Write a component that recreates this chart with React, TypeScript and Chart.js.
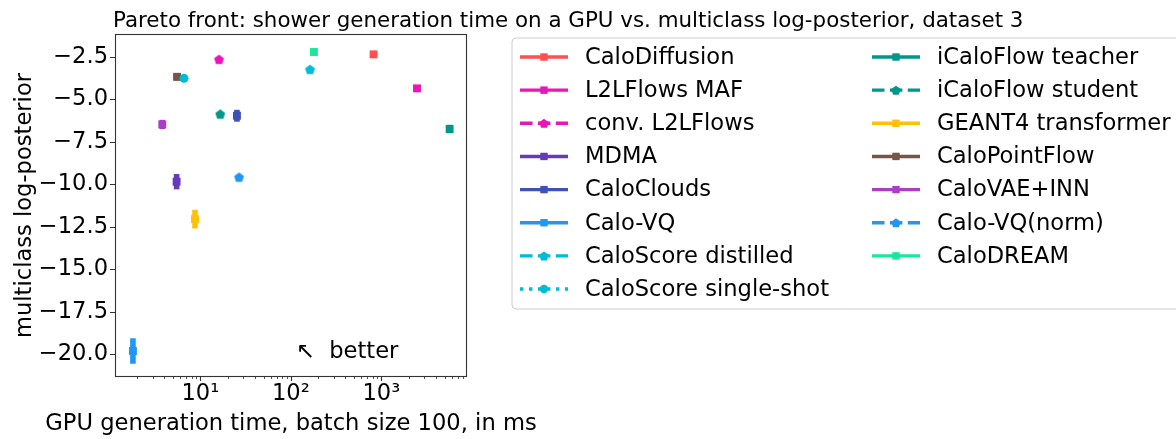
import React, { useEffect, useRef } from 'react';
import { Chart, registerables } from 'chart.js';
Chart.register(...registerables);

const models = [
  'CaloDiffusion', 'L2LFlows MAF', 'conv. L2LFlows', 'MDMA', 'CaloClouds', 'Calo-VQ',
  'CaloScore distilled', 'CaloScore single-shot', 'iCaloFlow teacher', 'iCaloFlow student',
  'GEANT4 transformer', 'CaloPointFlow', 'CaloVAE+INN', 'Calo-VQ(norm)', 'CaloDREAM',
];
const genTimes = [822, 2480, 16.1, 5.47, 25.4, 1.8, 163, 6.6, 5690, 16.6, 8.73, 5.53, 3.8, 26.8, 180];
const logPost = [-2.36, -4.36, -2.65, -9.85, -5.97, -19.81, -3.24, -3.77, -6.75, -5.87, -12.05, -3.68, -6.48, -9.58, -2.22];
const logPostErr = [0.06, 0.2, 0.08, 0.45, 0.35, 0.75, 0.08, 0.08, 0.25, 0.08, 0.55, 0.22, 0.27, 0.08, 0.06];
const colors = [
  '#ff4f4f', '#ea14b8', '#ea14b8', '#673ab7', '#3f51b5', '#2196f3',
  '#00bcd4', '#00bcd4', '#009688', '#009688', '#ffc107', '#795548', '#aa3fc5', '#2196f3', '#17e89a',
];
const markers = ['square', 'square', 'pentagon', 'square', 'square', 'square', 'pentagon', 'circle', 'square', 'pentagon', 'square', 'square', 'square', 'pentagon', 'square'];
const lineStyles = ['solid', 'solid', 'dashed', 'solid', 'solid', 'solid', 'dashed', 'dotted', 'solid', 'dashed', 'solid', 'solid', 'solid', 'dashed', 'solid'];

const xMajorTicks = [10, 100, 1000];
const xMajorLabels = ['10¹', '10²', '10³'];
const xMinorTicks = [2, 3, 4, 5, 6, 7, 8, 9, 20, 30, 40, 50, 60, 70, 80, 90, 200, 300, 400, 500, 600, 700, 800, 900, 2000, 3000, 4000, 5000, 6000, 7000, 8000];
const yTicks = [-20, -17.5, -15, -12.5, -10, -7.5, -5, -2.5];
const yTickLabels = ['−20.0', '−17.5', '−15.0', '−12.5', '−10.0', '−7.5', '−5.0', '−2.5'];
const xRange = [1.17, 8630];
const yRange = [-21.28, -1.22];

const titleText = 'Pareto front: shower generation time on a GPU vs. multiclass log-posterior, dataset 3';
const xLabel = 'GPU generation time, batch size 100, in ms';
const yLabel = 'multiclass log-posterior';
const noteText = '↖  better';

const FONT = '"DejaVu Sans", sans-serif';
const FS = 22.6;

function pentagonPath(ctx: CanvasRenderingContext2D, cx: number, cy: number, r: number) {
  ctx.beginPath();
  for (let k = 0; k < 5; k++) {
    const a = -Math.PI / 2 + (k * 2 * Math.PI) / 5;
    const px = cx + r * Math.cos(a);
    const py = cy + r * Math.sin(a);
    if (k === 0) ctx.moveTo(px, py);
    else ctx.lineTo(px, py);
  }
  ctx.closePath();
}

function makePentagon(color: string, r: number) {
  const c = document.createElement('canvas');
  const s = Math.ceil(r * 2 + 4);
  c.width = s;
  c.height = s;
  const g = c.getContext('2d')!;
  g.fillStyle = color;
  pentagonPath(g, s / 2, s / 2 + r * 0.1, r);
  g.fill();
  return c;
}

function drawMarker(ctx: CanvasRenderingContext2D, kind: string, color: string, x: number, y: number) {
  ctx.fillStyle = color;
  if (kind === 'square') {
    ctx.fillRect(x - 3.7, y - 3.7, 7.4, 7.4);
  } else if (kind === 'circle') {
    ctx.beginPath();
    ctx.arc(x, y, 4.2, 0, Math.PI * 2);
    ctx.fill();
  } else {
    pentagonPath(ctx, x, y + 0.5, 5);
    ctx.fill();
  }
}

const decorPlugin = {
  id: 'decor',
  beforeDatasetsDraw(chart: any) {
    const ctx = chart.ctx as CanvasRenderingContext2D;
    const xs = chart.scales.x;
    const ys = chart.scales.y;
    ctx.save();
    ctx.lineCap = 'butt';
    models.forEach((_, i) => {
      const px = xs.getPixelForValue(genTimes[i]);
      const y1 = ys.getPixelForValue(logPost[i] - logPostErr[i]);
      const y2 = ys.getPixelForValue(logPost[i] + logPostErr[i]);
      ctx.strokeStyle = colors[i];
      ctx.lineWidth = 5.6;
      ctx.beginPath();
      ctx.moveTo(px, y1);
      ctx.lineTo(px, y2);
      ctx.stroke();
    });
    ctx.restore();
  },
  afterDraw(chart: any) {
    const ctx = chart.ctx as CanvasRenderingContext2D;
    const xs = chart.scales.x;
    const ys = chart.scales.y;
    const a = chart.chartArea;
    ctx.save();
    // frame
    ctx.strokeStyle = '#333';
    ctx.lineWidth = 1.1;
    ctx.strokeRect(a.left - 0.5, a.top - 0.5, a.right - a.left + 1, a.bottom - a.top + 1);
    // ticks
    ctx.beginPath();
    xMajorTicks.forEach((v) => {
      const p = Math.round(xs.getPixelForValue(v)) + 0.5;
      ctx.moveTo(p, a.bottom);
      ctx.lineTo(p, a.bottom + 5);
    });
    yTicks.forEach((v) => {
      const p = Math.round(ys.getPixelForValue(v)) + 0.5;
      ctx.moveTo(a.left - 1, p);
      ctx.lineTo(a.left - 6, p);
    });
    ctx.stroke();
    ctx.lineWidth = 0.85;
    ctx.beginPath();
    xMinorTicks.forEach((v) => {
      const p = Math.round(xs.getPixelForValue(v)) + 0.5;
      ctx.moveTo(p, a.bottom);
      ctx.lineTo(p, a.bottom + 3);
    });
    ctx.stroke();

    // title
    ctx.fillStyle = '#000';
    ctx.font = `21.4px ${FONT}`;
    ctx.textAlign = 'left';
    ctx.textBaseline = 'alphabetic';
    ctx.fillText(titleText, 113, 27);

    // axis labels
    ctx.font = `${FS}px ${FONT}`;
    ctx.textAlign = 'center';
    ctx.fillText(xLabel, (a.left + a.right) / 2, 430);
    ctx.save();
    ctx.translate(31, (a.top + a.bottom) / 2);
    ctx.rotate(-Math.PI / 2);
    ctx.fillText(yLabel, 0, 0);
    ctx.restore();

    // note
    ctx.textAlign = 'left';
    ctx.textBaseline = 'middle';
    ctx.fillText(noteText, a.left + 0.514 * (a.right - a.left), a.top + 0.93 * (a.bottom - a.top));

    // legend box
    const lx = 512, ly = 38, lw = 700, lh = 271, rr = 4;
    ctx.beginPath();
    ctx.moveTo(lx + rr, ly);
    ctx.lineTo(lx + lw, ly);
    ctx.lineTo(lx + lw, ly + lh);
    ctx.lineTo(lx + rr, ly + lh);
    ctx.arcTo(lx, ly + lh, lx, ly + lh - rr, rr);
    ctx.lineTo(lx, ly + rr);
    ctx.arcTo(lx, ly, lx + rr, ly, rr);
    ctx.closePath();
    ctx.fillStyle = 'rgba(255,255,255,0.8)';
    ctx.fill();
    ctx.strokeStyle = '#cccccc';
    ctx.lineWidth = 1;
    ctx.stroke();

    models.forEach((m, i) => {
      const col = i < 8 ? 0 : 1;
      const row = i % 8;
      const y = 57 + row * 33.15;
      const x0 = col === 0 ? 520 : 872;
      const x1 = x0 + 48;
      const tx = col === 0 ? 585 : 937;
      ctx.strokeStyle = colors[i];
      ctx.lineWidth = 3.4;
      ctx.lineCap = 'butt';
      if (lineStyles[i] === 'dashed') ctx.setLineDash([12.5, 5.4]);
      else if (lineStyles[i] === 'dotted') ctx.setLineDash([3.4, 5.6]);
      else ctx.setLineDash([]);
      ctx.beginPath();
      ctx.moveTo(x0, y);
      ctx.lineTo(x1, y);
      ctx.stroke();
      ctx.setLineDash([]);
      drawMarker(ctx, markers[i], colors[i], (x0 + x1) / 2, y);
      ctx.fillStyle = '#000';
      ctx.font = `${FS}px ${FONT}`;
      ctx.textAlign = 'left';
      ctx.textBaseline = 'middle';
      ctx.fillText(m, tx, y + 1);
    });
    ctx.restore();
  },
};

export default function App() {
  const ref = useRef<HTMLCanvasElement>(null);
  useEffect(() => {
    document.body.style.margin = '0';
    const datasets = models.map((m, i) => {
      const kind = markers[i];
      const style: any = kind === 'square' ? 'rect' : kind === 'circle' ? 'circle' : makePentagon(colors[i], 5.2);
      const radius = kind === 'square' ? 5.6 : 4.5;
      return {
        label: m,
        data: [{ x: genTimes[i], y: logPost[i] }],
        backgroundColor: colors[i],
        borderColor: colors[i],
        borderWidth: 0,
        pointStyle: style,
        pointRadius: radius,
        pointHoverRadius: radius,
        showLine: false,
      };
    });
    const chart = new Chart(ref.current!, {
      type: 'scatter',
      data: { datasets },
      options: {
        responsive: false,
        animation: false,
        events: [],
        layout: { padding: { top: 35, right: 710, left: 0, bottom: 0 } },
        plugins: { legend: { display: false }, tooltip: { enabled: false }, title: { display: false } },
        scales: {
          x: {
            type: 'logarithmic',
            min: xRange[0],
            max: xRange[1],
            afterBuildTicks: (s: any) => {
              s.ticks = [...xMinorTicks, ...xMajorTicks].sort((p, q) => p - q).map((v) => ({ value: v }));
            },
            afterFit: (s: any) => {
              s.height = 63;
            },
            ticks: {
              autoSkip: false,
              maxRotation: 0,
              minRotation: 0,
              padding: 5,
              color: '#000',
              font: { family: FONT, size: FS },
              callback: (v: any) => {
                const k = xMajorTicks.indexOf(Number(v));
                return k >= 0 ? xMajorLabels[k] : '';
              },
            },
            grid: { display: false, drawTicks: false },
            border: { display: false },
          },
          y: {
            type: 'linear',
            min: yRange[0],
            max: yRange[1],
            afterBuildTicks: (s: any) => {
              s.ticks = yTicks.map((v) => ({ value: v }));
            },
            afterFit: (s: any) => {
              s.width = 116;
            },
            ticks: {
              autoSkip: false,
              padding: 8,
              color: '#000',
              font: { family: FONT, size: FS },
              callback: (v: any) => {
                const k = yTicks.indexOf(Number(v));
                return k >= 0 ? yTickLabels[k] : '';
              },
            },
            grid: { display: false, drawTicks: false },
            border: { display: false },
          },
        },
      } as any,
      plugins: [decorPlugin],
    });
    return () => chart.destroy();
  }, []);
  return (
    <div style={{ position: 'fixed', left: 0, top: 0, width: 1176, height: 439, background: '#fff' }}>
      <canvas ref={ref} width={1176} height={439} style={{ width: 1176, height: 439, display: 'block' }} />
    </div>
  );
}
